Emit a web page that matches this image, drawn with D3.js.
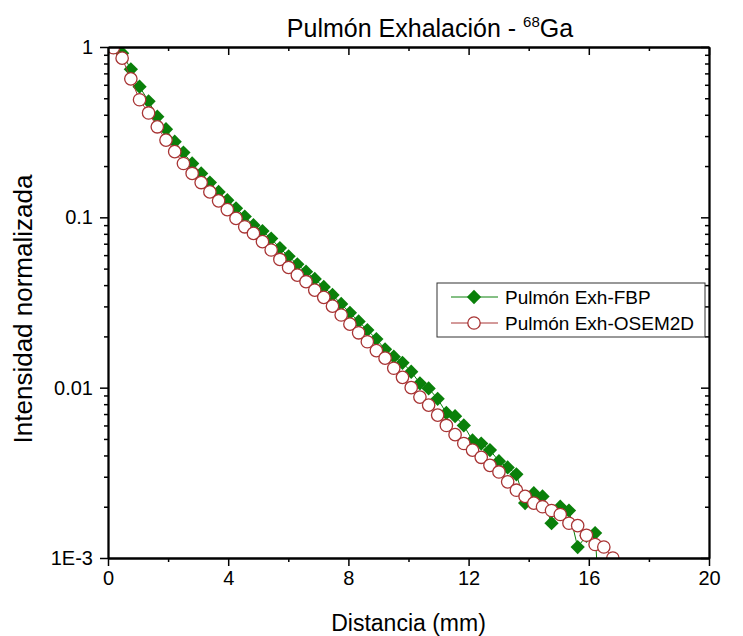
<!DOCTYPE html>
<html>
<head>
<meta charset="utf-8">
<script src="https://cdn.jsdelivr.net/npm/d3@7"></script>
<style>
  body { margin: 0; background: #fff; }
  text { font-family: "Liberation Sans", Arial, sans-serif; }
</style>
</head>
<body>
<svg id="chart" width="743" height="636"></svg>
<script>
// distancia (mm) de cada punto del perfil
var distancia = [0.18, 0.47, 0.76, 1.05, 1.35, 1.64, 1.93, 2.22, 2.51, 2.80,
    3.10, 3.39, 3.68, 3.97, 4.26, 4.55, 4.84, 5.14, 5.43, 5.72,
    6.01, 6.30, 6.59, 6.88, 7.18, 7.47, 7.76, 8.05, 8.34, 8.63,
    8.93, 9.22, 9.51, 9.80, 10.09, 10.38, 10.67, 10.97, 11.26, 11.55,
    11.84, 12.13, 12.42, 12.71, 13.01, 13.30, 13.59, 13.88, 14.17, 14.46,
    14.76, 15.05, 15.34, 15.63, 15.92, 16.21, 16.50, 16.80];

var fbp = [1.0, 0.92, 0.74, 0.585, 0.48, 0.39, 0.329, 0.278, 0.24, 0.207,
    0.181, 0.16, 0.141, 0.126, 0.113, 0.101, 0.09, 0.083, 0.075, 0.066,
    0.059, 0.053, 0.048, 0.0435, 0.039, 0.035, 0.031, 0.0275, 0.0245, 0.0218,
    0.0193, 0.0168, 0.0152, 0.014, 0.0124, 0.0106, 0.0099, 0.0086, 0.0071, 0.0068,
    0.006, 0.0049, 0.0047, 0.0043, 0.0037, 0.0034, 0.0031, 0.0021, 0.0024, 0.0023,
    0.0016, 0.002, 0.0019, 0.00116, 0.00135, 0.0014, 0.0002];

var osem = [0.99, 0.86, 0.65, 0.49, 0.41, 0.34, 0.284, 0.243, 0.207, 0.181,
    0.16, 0.141, 0.125, 0.111, 0.0986, 0.088, 0.0805, 0.072, 0.0643, 0.0566,
    0.0508, 0.0458, 0.0419, 0.0374, 0.0339, 0.0301, 0.0267, 0.0236, 0.021, 0.0186,
    0.0165, 0.0149, 0.013, 0.0115, 0.01, 0.0088, 0.0079, 0.0069, 0.006, 0.0053,
    0.0047, 0.0043, 0.0039, 0.0035, 0.0032, 0.0028, 0.0025, 0.0023, 0.0021, 0.002,
    0.0019, 0.0018, 0.0016, 0.00155, 0.00136, 0.0012, 0.00116, 0.001];

var xTicks = [0, 4, 8, 12, 16, 20];
var xMinor = [2, 6, 10, 14, 18];
var yTicks = [1, 0.1, 0.01, 0.001];
var yTickLabels = ["1", "0.1", "0.01", "1E-3"];
var seriesNames = ["Pulmón Exh-FBP", "Pulmón Exh-OSEM2D"];

var svgWidth = 743, svgHeight = 636;
var margin = {top: 47, right: 34, bottom: 78, left: 108};
var width = svgWidth - margin.left - margin.right;
var height = svgHeight - margin.top - margin.bottom;

var svg = d3.select("#chart");
var g = svg.append("g")
    .attr("transform", "translate(" + margin.left + "," + margin.top + ")");

var x = d3.scaleLinear().domain([0, 20]).range([0, width]);
var y = d3.scaleLog().domain([0.001, 1]).range([height, 0]);

// minor ticks del eje log
var yMinor = [];
[0.001, 0.01, 0.1].forEach(function (dec) {
    for (var k = 2; k <= 9; k++) yMinor.push(dec * k);
});

var green = "#0a800a", red = "#a83434";

svg.append("defs").append("clipPath").attr("id", "clip")
    .append("rect").attr("width", width).attr("height", height);

var plot = g.append("g").attr("clip-path", "url(#clip)");

function drawSeries(values, color, isCircle) {
    var pts = values.map(function (v, i) { return {d: distancia[i], v: v}; });
    var line = d3.line()
        .x(function (p) { return x(p.d); })
        .y(function (p) { return y(p.v); });
    plot.append("path")
        .datum(pts)
        .attr("fill", "none")
        .attr("stroke", color)
        .attr("stroke-width", 1)
        .attr("d", line);
    if (isCircle) {
        plot.append("g").selectAll("circle")
            .data(pts).enter()
            .append("circle")
            .attr("cx", function (p) { return x(p.d); })
            .attr("cy", function (p) { return y(p.v); })
            .attr("r", 6.2)
            .attr("fill", "#fff")
            .attr("stroke", color)
            .attr("stroke-width", 1.3);
    } else {
        plot.append("g").selectAll("path")
            .data(pts).enter()
            .append("path")
            .attr("d", d3.symbol().type(d3.symbolDiamond2).size(130))
            .attr("transform", function (p) { return "translate(" + x(p.d) + "," + y(p.v) + ")"; })
            .attr("fill", color);
    }
}

drawSeries(fbp, green, false);
drawSeries(osem, red, true);

// ejes
function styleAxis(sel) {
    sel.selectAll("path.domain").attr("stroke", "#000").attr("stroke-width", 1.8);
    sel.selectAll(".tick line").attr("stroke", "#000").attr("stroke-width", 1.5);
    sel.selectAll(".tick text").attr("fill", "#000")
        .style("font-family", "'Liberation Sans', Arial, sans-serif").style("font-size", "20px");
}

g.append("g").attr("transform", "translate(0," + height + ")")
    .call(d3.axisBottom(x).tickValues(xTicks).tickSize(8).tickSizeOuter(0).tickPadding(5).tickFormat(d3.format("d")))
    .call(styleAxis);
g.append("g").attr("transform", "translate(0," + height + ")")
    .call(d3.axisBottom(x).tickValues(xMinor).tickSize(4).tickSizeOuter(0).tickFormat(""))
    .call(styleAxis);
g.append("g")
    .call(d3.axisTop(x).tickValues(xTicks).tickSize(-8).tickSizeOuter(0).tickFormat(""))
    .call(styleAxis);
g.append("g")
    .call(d3.axisTop(x).tickValues(xMinor).tickSize(-4).tickSizeOuter(0).tickFormat(""))
    .call(styleAxis);

g.append("g")
    .call(d3.axisLeft(y).tickValues(yTicks).tickSize(8).tickSizeOuter(0).tickPadding(7)
        .tickFormat(function (d, i) { return yTickLabels[i]; }))
    .call(styleAxis);
g.append("g")
    .call(d3.axisLeft(y).tickValues(yMinor).tickSize(4).tickSizeOuter(0).tickFormat(""))
    .call(styleAxis);
g.append("g").attr("transform", "translate(" + width + ",0)")
    .call(d3.axisRight(y).tickValues(yTicks).tickSize(-8).tickSizeOuter(0).tickFormat(""))
    .call(styleAxis);
g.append("g").attr("transform", "translate(" + width + ",0)")
    .call(d3.axisRight(y).tickValues(yMinor).tickSize(-4).tickSizeOuter(0).tickFormat(""))
    .call(styleAxis);

// títulos
var title = svg.append("text")
    .attr("x", 430).attr("y", 37)
    .attr("text-anchor", "middle")
    .style("font-size", "25px");
title.append("tspan").text("Pulmón Exhalación - ");
title.append("tspan").attr("dy", -10).style("font-size", "15px").text("68");
title.append("tspan").attr("dy", 10).text("Ga");

svg.append("text")
    .attr("x", margin.left + width / 2).attr("y", 631)
    .attr("text-anchor", "middle")
    .style("font-size", "23px")
    .text("Distancia (mm)");

svg.append("text")
    .attr("transform", "translate(32,309) rotate(-90)")
    .attr("text-anchor", "middle")
    .style("font-size", "26px")
    .text("Intensidad normalizada");

// leyenda
var legend = svg.append("g");
legend.append("rect")
    .attr("x", 437).attr("y", 283).attr("width", 268).attr("height", 54)
    .attr("fill", "#fff").attr("stroke", "#333").attr("stroke-width", 1);
var rows = legend.selectAll("g.row")
    .data(seriesNames).enter()
    .append("g")
    .attr("transform", function (d, i) { return "translate(0," + (297 + i * 26) + ")"; });
rows.append("line")
    .attr("x1", 451).attr("x2", 498)
    .attr("stroke", function (d, i) { return i === 0 ? green : red; })
    .attr("stroke-width", 1);
rows.each(function (d, i) {
    var r = d3.select(this);
    if (i === 0) {
        r.append("path").attr("d", d3.symbol().type(d3.symbolDiamond2).size(130))
            .attr("transform", "translate(474,0)").attr("fill", green);
    } else {
        r.append("circle").attr("cx", 474).attr("r", 6.2)
            .attr("fill", "#fff").attr("stroke", red).attr("stroke-width", 1.3);
    }
});
rows.append("text")
    .attr("x", 505).attr("y", 7)
    .style("font-size", "19px")
    .text(function (d) { return d; });
</script>
</body>
</html>
